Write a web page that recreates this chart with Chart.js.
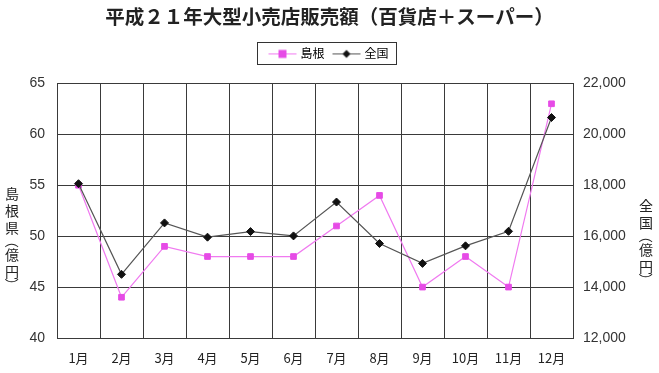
<!DOCTYPE html>
<html>
<head>
<meta charset="utf-8">
<script src="https://cdn.jsdelivr.net/npm/chart.js@4/dist/chart.umd.min.js"></script>
<style>
  html, body { margin: 0; padding: 0; background: #fff; }
  #wrap { width: 659px; height: 373px; }
</style>
</head>
<body>
<div id="wrap"><canvas id="salesChart" width="659" height="373"></canvas></div>
<script>
// ================= DATA =================
const months = ["1月", "2月", "3月", "4月", "5月", "6月", "7月", "8月", "9月", "10月", "11月", "12月"];
const shimaneSales = [55, 44, 49, 48, 48, 48, 51, 54, 45, 48, 45, 63];
const zenkokuSales = [18060, 14500, 16520, 15960, 16180, 16010, 17340, 15710, 14930, 15620, 16190, 20660];
const leftTicks = [40, 45, 50, 55, 60, 65];
const rightTicks = [12000, 14000, 16000, 18000, 20000, 22000];
const seriesNames = ["島根", "全国"];

const CJK = "'Noto Sans CJK JP', 'Noto Sans', sans-serif";
const NUM = "'Liberation Sans', Arial, sans-serif";
const PINK = "#e64be6";
const PINK_LINE = "#f07af0";
const DARK = "#111";
const DARK_LINE = "#555";
const GRID = "#3a3a3a";

// ================= LEGEND MARKERS =================
function makeMarker(lineColor, fill, shape) {
  const c = document.createElement("canvas");
  c.width = 30; c.height = 12;
  const ctx = c.getContext("2d");
  ctx.strokeStyle = lineColor;
  ctx.lineWidth = 1;
  ctx.beginPath(); ctx.moveTo(1, 6.5); ctx.lineTo(29, 6.5); ctx.stroke();
  ctx.fillStyle = fill;
  if (shape === "rect") {
    ctx.fillRect(11, 2.5, 8, 8);
  } else {
    ctx.beginPath();
    ctx.moveTo(15, 2.5); ctx.lineTo(19, 6.5); ctx.lineTo(15, 10.5); ctx.lineTo(11, 6.5);
    ctx.closePath(); ctx.fill();
  }
  return c;
}

// ================= PLUGINS =================
// extra room under the legend so the plot starts lower
const legendSpace = {
  id: "legendSpace",
  afterInit(chart) {
    const lg = chart.legend;
    if (!lg || lg._spaced) return;
    const fit = lg.fit;
    lg.fit = function () { fit.call(this); this.height += 14; };
    lg._spaced = true;
  }
};

const legendBox = {
  id: "legendBox",
  afterDraw(chart) {
    const hb = chart.legend && chart.legend.legendHitBoxes;
    if (!hb || !hb.length) return;
    const first = hb[0], last = hb[hb.length - 1];
    const ctx = chart.ctx;
    ctx.save();
    ctx.strokeStyle = "#333";
    ctx.lineWidth = 1;
    const x0 = Math.round(first.left - 13) + 0.5;
    const x1 = Math.round(last.left + last.width + 7) + 0.5;
    const y0 = Math.round(first.top - 5) + 0.5;
    const y1 = Math.round(first.top + first.height + 5) + 0.5;
    ctx.strokeRect(x0, y0, x1 - x0, y1 - y0);
    ctx.restore();
  }
};

function drawVertical(ctx, chars, x, top, size) {
  ctx.save();
  ctx.font = size + "px " + CJK;
  ctx.fillStyle = "#222";
  ctx.textAlign = "center";
  ctx.textBaseline = "middle";
  let y = top;
  chars.forEach(ch => {
    const paren = ch === "（" || ch === "）";
    const adv = paren ? 10 : 17;
    const cy = y + adv / 2;
    if (paren) {
      ctx.save();
      ctx.translate(x, cy);
      ctx.rotate(Math.PI / 2);
      ctx.fillText(ch, 0, 0);
      ctx.restore();
    } else {
      ctx.fillText(ch, x, cy);
    }
    y += adv;
  });
  ctx.restore();
}

const axisTitles = {
  id: "axisTitles",
  afterDraw(chart) {
    const ctx = chart.ctx;
    drawVertical(ctx, ["島", "根", "県", "（", "億", "円", "）"], 12, 185, 14);
    drawVertical(ctx, ["全", "国", "（", "億", "円", "）"], 646, 197, 14);
  }
};

// ================= CHART =================
const markers = [makeMarker(PINK_LINE, PINK, "rect"), makeMarker(DARK_LINE, DARK, "diamond")];

new Chart(document.getElementById("salesChart"), {
  type: "line",
  data: {
    labels: months,
    datasets: [
      {
        label: seriesNames[0],
        data: shimaneSales,
        yAxisID: "y",
        order: 2,
        borderColor: PINK_LINE,
        borderWidth: 1.2,
        pointStyle: "rect",
        pointRadius: 4,
        pointBackgroundColor: PINK,
        pointBorderColor: PINK,
        pointBorderWidth: 1,
        tension: 0
      },
      {
        label: seriesNames[1],
        data: zenkokuSales,
        yAxisID: "y1",
        order: 1,
        borderColor: DARK_LINE,
        borderWidth: 1.2,
        pointStyle: "rectRot",
        pointRadius: 4,
        pointBackgroundColor: DARK,
        pointBorderColor: DARK,
        pointBorderWidth: 1,
        tension: 0
      }
    ]
  },
  options: {
    responsive: false,
    animation: false,
    layout: { padding: { left: 0, right: 0, top: 0, bottom: 0 } },
    plugins: {
      tooltip: { enabled: false },
      title: {
        display: true,
        text: "平成２１年大型小売店販売額（百貨店＋スーパー）",
        color: "#222",
        font: { family: CJK, size: 19.5, weight: "bold" },
        padding: { top: 5, bottom: 9 }
      },
      legend: {
        display: true,
        position: "top",
        labels: {
          usePointStyle: true,
          pointStyleWidth: 24,
          boxHeight: 12,
          padding: 10,
          color: "#222",
          font: { family: CJK, size: 12 },
          generateLabels: () => seriesNames.map((name, i) => ({
            text: name,
            pointStyle: markers[i],
            fillStyle: "transparent",
            strokeStyle: "transparent",
            lineWidth: 0,
            hidden: false,
            datasetIndex: i
          }))
        }
      }
    },
    scales: {
      x: {
        offset: true,
        grid: { offset: true, color: GRID, lineWidth: 1, drawTicks: false },
        border: { display: true, color: GRID },
        ticks: { color: "#222", padding: 12, font: { family: CJK, size: 13 }, maxRotation: 0 },
        afterFit: s => { s.height = 35; }
      },
      y: {
        position: "left",
        min: leftTicks[0],
        max: leftTicks[leftTicks.length - 1],
        afterBuildTicks: s => { s.ticks = leftTicks.map(v => ({ value: v })); },
        grid: { color: GRID, lineWidth: 1, drawTicks: false },
        border: { display: true, color: GRID },
        ticks: { color: "#333", padding: 12, font: { family: NUM, size: 14 } },
        afterFit: s => { s.width = 57; }
      },
      y1: {
        position: "right",
        min: rightTicks[0],
        max: rightTicks[rightTicks.length - 1],
        afterBuildTicks: s => { s.ticks = rightTicks.map(v => ({ value: v })); },
        grid: { drawOnChartArea: false, drawTicks: false },
        border: { display: true, color: GRID },
        ticks: {
          color: "#333", padding: 10, font: { family: NUM, size: 14 },
          callback: v => v.toLocaleString("en-US")
        },
        afterFit: s => { s.width = 86; }
      }
    }
  },
  plugins: [legendSpace, legendBox, axisTitles]
});
</script>
</body>
</html>
